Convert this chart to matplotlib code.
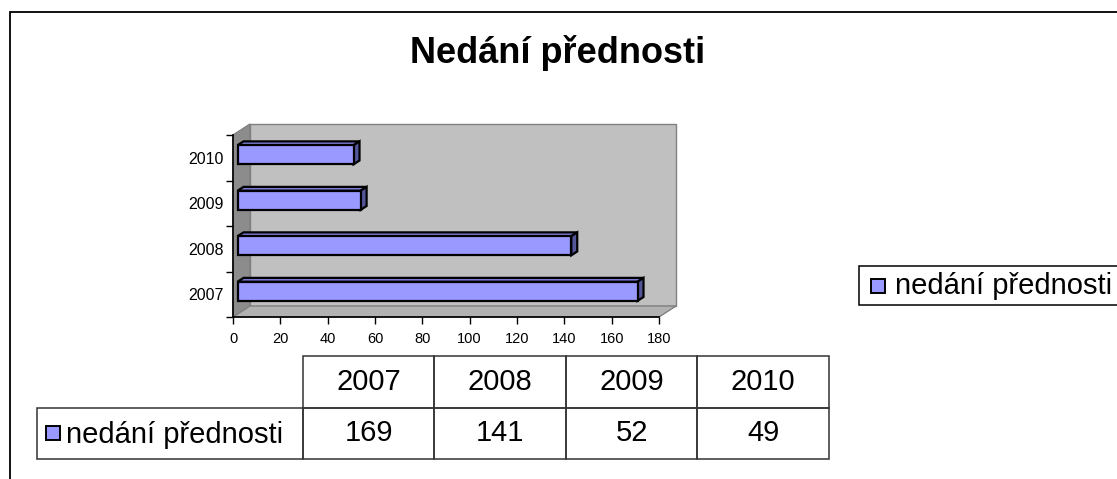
import matplotlib
matplotlib.use("Agg")
import matplotlib.pyplot as plt
from matplotlib.patches import Rectangle, Polygon

plt.rcParams['font.family'] = ['Liberation Sans', 'DejaVu Sans']

# data
years = ['2007', '2008', '2009', '2010']
values = [169, 141, 52, 49]
series_name = 'nedání přednosti'
title = 'Nedání přednosti'
x_ticks = list(range(0, 181, 20))

BAR = '#9999ff'
W, H = 1117, 479
fig = plt.figure(figsize=(W / 100, H / 100), dpi=100)

# outer chart frame (right/bottom run off the picture)
fig.add_artist(Rectangle((10 / W, -0.5), 2, 1.5 - 12 / H, transform=fig.transFigure,
                         fill=False, edgecolor='black', lw=1.3))

fig.text(558 / W, 1 - 63 / H, title, ha='center', va='baseline',
         fontsize=26, fontweight='bold')

# plot area (front plane) in pixels
px0, px1, py0, py1 = 233, 659, 135, 317
ax = fig.add_axes([px0 / W, 1 - py1 / H, (px1 - px0) / W, (py1 - py0) / H])
ax.set_xlim(0, 180)
ax.set_ylim(-0.5, 3.5)
ax.patch.set_visible(False)

# depth of the 3d box, converted from px to data units
ddx = 180 * 17 / (px1 - px0)
ddy = 4 * 11 / (py1 - py0)

wall_kw = dict(edgecolor='#808080', lw=1, clip_on=False, zorder=0)
ax.add_patch(Polygon([(0, -0.5), (ddx, -0.5 + ddy), (ddx, 3.5 + ddy), (0, 3.5)],
                     facecolor='#8c8c8c', **wall_kw))
ax.add_patch(Rectangle((ddx, -0.5 + ddy), 180, 4, facecolor='#c0c0c0', **wall_kw))
ax.add_patch(Polygon([(0, -0.5), (180, -0.5), (180 + ddx, -0.5 + ddy), (ddx, -0.5 + ddy)],
                     facecolor='#b2b2b2', **wall_kw))

# bars: front face sits at ~27% of depth, bar is ~35% deep
f0, fd = 0.27, 0.35
bh = 0.42
ypos = list(range(len(years)))
x0 = f0 * ddx
ax.barh([y + f0 * ddy for y in ypos], values, height=bh, left=x0,
        color=BAR, edgecolor='black', lw=1.6, zorder=3, clip_on=False)
bdx, bdy = fd * ddx, fd * ddy
for y, v in zip(ypos, values):
    yb = y + f0 * ddy - bh / 2
    yt = yb + bh
    xe = x0 + v
    ax.add_patch(Polygon([(x0, yt), (xe, yt), (xe + bdx, yt + bdy), (x0 + bdx, yt + bdy)],
                         facecolor='#7b7bd6', edgecolor='black', lw=1.6, zorder=2, clip_on=False))
    ax.add_patch(Polygon([(xe, yb), (xe, yt), (xe + bdx, yt + bdy), (xe + bdx, yb + bdy)],
                         facecolor='#55559a', edgecolor='black', lw=1.6, zorder=2, clip_on=False))

for s in ['top', 'right']:
    ax.spines[s].set_visible(False)
for s in ['left', 'bottom']:
    ax.spines[s].set_color('black')
    ax.spines[s].set_linewidth(1.2)
    ax.spines[s].set_zorder(4)

ax.set_xticks(x_ticks)
ax.set_xticklabels([str(t) for t in x_ticks], fontsize=10.5)
ax.tick_params(axis='x', length=5, width=1, pad=6)
ax.set_yticks([-0.5, 0.5, 1.5, 2.5, 3.5])
ax.set_yticklabels([])
ax.set_yticks(ypos, minor=True)
ax.set_yticklabels(years, minor=True, fontsize=11.5)
ax.tick_params(axis='y', which='major', length=5, width=1)
ax.tick_params(axis='y', which='minor', length=0, pad=7)

# data table under the chart
tx0, tx1, ty0, ty1 = 37, 829, 356, 459
colw = (tx1 - 303) / len(years)
lab_w = (303 - tx0) / colw
tax = fig.add_axes([tx0 / W, 1 - ty1 / H, (tx1 - tx0) / W, (ty1 - ty0) / H])
tax.set_xlim(-lab_w, len(years))
tax.set_ylim(0, 2)
tax.axis('off')
cell_kw = dict(fill=False, edgecolor='#333333', lw=1.1, clip_on=False)
for i, (yr, v) in enumerate(zip(years, values)):
    tax.add_patch(Rectangle((i, 1), 1, 1, **cell_kw))
    tax.add_patch(Rectangle((i, 0), 1, 1, **cell_kw))
    tax.text(i + 0.5, 1.5, yr, ha='center', va='center', fontsize=21)
    tax.text(i + 0.5, 0.5, str(v), ha='center', va='center', fontsize=21)
tax.add_patch(Rectangle((-lab_w, 0), lab_w, 1, **cell_kw))
kw_ = 14 / colw
kh_ = 2 * 14 / (ty1 - ty0)
tax.add_patch(Rectangle((-lab_w + 9 / colw, 0.5 - kh_ / 2), kw_, kh_,
                        facecolor=BAR, edgecolor='black', lw=1.4, clip_on=False))
tax.text(-lab_w + 29 / colw, 0.47, series_name, ha='left', va='center', fontsize=21)

# legend on the right (box runs off the right edge)
lx, ly, lh = 859, 266, 39
fig.add_artist(Rectangle((lx / W, 1 - (ly + lh) / H), 1, lh / H, transform=fig.transFigure,
                         facecolor='white', edgecolor='black', lw=1.1))
fig.add_artist(Rectangle((871 / W, 1 - (ly + lh / 2 + 7) / H), 14 / W, 14 / H,
                         transform=fig.transFigure, facecolor=BAR, edgecolor='black', lw=1.4))
fig.text(895 / W, 1 - (ly + lh / 2 + 1) / H, series_name, ha='left', va='center', fontsize=21)

fig.savefig('out.png', dpi=100)
